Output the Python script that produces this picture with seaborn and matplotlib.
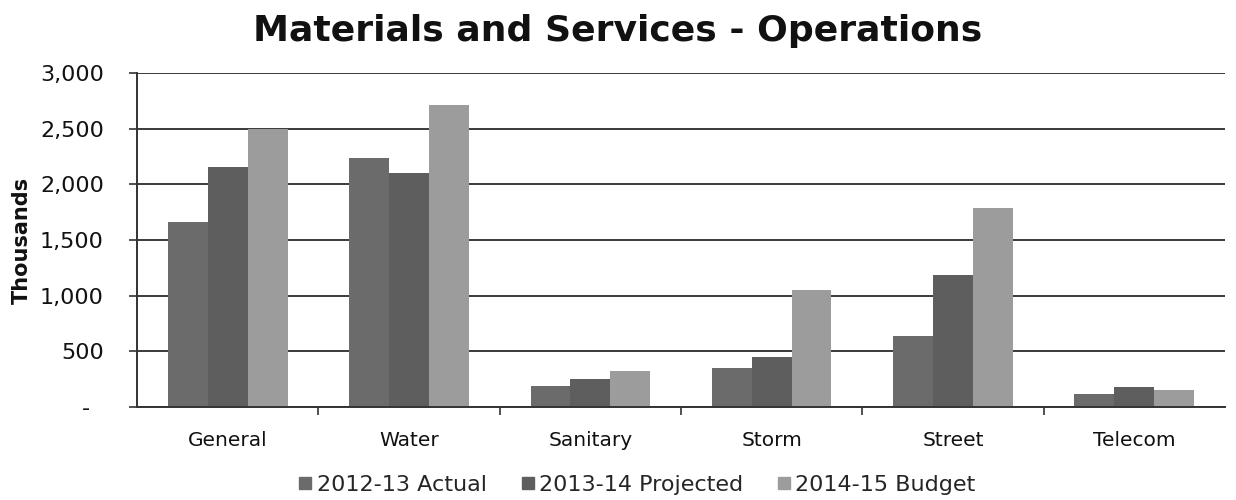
import numpy as np
import pandas as pd
import matplotlib
matplotlib.use("Agg")
import matplotlib.pyplot as plt
from matplotlib.ticker import FuncFormatter, FixedLocator
from matplotlib.lines import Line2D
import seaborn as sns

categories = ["General", "Water", "Sanitary", "Storm", "Street", "Telecom"]
series = ["2012-13 Actual", "2013-14 Projected", "2014-15 Budget"]
actual_2012_13 = [1665, 2235, 190, 348, 638, 114]
projected_2013_14 = [2160, 2105, 254, 449, 1186, 177]
budget_2014_15 = [2497, 2713, 321, 1048, 1785, 153]
colors = ["#6b6b6b", "#5e5e5e", "#9c9c9c"]

df = pd.DataFrame({
    "Category": categories * 3,
    "Series": [series[0]] * 6 + [series[1]] * 6 + [series[2]] * 6,
    "Value": actual_2012_13 + projected_2013_14 + budget_2014_15,
})

sns.set_theme(style="white")
plt.rcParams["font.family"] = ["DejaVu Sans"]

fig = plt.figure(figsize=(12.36, 5.0), dpi=100)
ax = fig.add_axes([0.111, 0.186, 0.880, 0.668])

sns.barplot(data=df, x="Category", y="Value", hue="Series", order=categories,
            hue_order=series, palette=colors, saturation=1, width=0.66,
            linewidth=0, ax=ax, legend=False)

ax.set_ylim(0, 3000)
ax.set_xlim(-0.5, len(categories) - 0.5)
ax.set_yticks(np.arange(0, 3001, 500))
# accounting-style labels: zero shown as a dash, offset by one figure space
ax.yaxis.set_major_formatter(FuncFormatter(lambda v, p: "-\u2007" if v == 0 else f"{int(v):,}"))
ax.yaxis.grid(True, color="#3a3a3a", linewidth=1.4)
ax.set_axisbelow(True)

for s in ["top", "right"]:
    ax.spines[s].set_visible(False)
for s in ["left", "bottom"]:
    ax.spines[s].set_color("#333333")
    ax.spines[s].set_linewidth(1.4)

ax.tick_params(axis="y", which="major", left=True, length=6, width=1.2,
               color="#333333", labelsize=16, labelcolor="#111111", pad=18)
ax.tick_params(axis="x", which="major", bottom=False, labelsize=14.5, labelcolor="#111111", pad=11)
ax.xaxis.set_minor_locator(FixedLocator(np.arange(0.5, len(categories) - 0.5, 1)))
ax.tick_params(axis="x", which="minor", bottom=True, length=6, width=1.2, color="#333333")

ax.set_xlabel("")
ax.set_ylabel("Thousands", fontsize=15, fontweight="bold", color="#111111", labelpad=6)

fig.suptitle("Materials and Services - Operations", fontsize=26, fontweight="bold",
             color="#111111", y=0.972)

handles = [Line2D([0], [0], marker="s", linestyle="", markersize=9,
                  markerfacecolor=c, markeredgecolor=c) for c in colors]
fig.legend(handles, series, loc="center", bbox_to_anchor=(0.515, 0.03), ncol=3,
           frameon=False, fontsize=16, handletextpad=0.15, columnspacing=1.5,
           handlelength=0.7)

fig.savefig("out.png", dpi=100, facecolor="white")
